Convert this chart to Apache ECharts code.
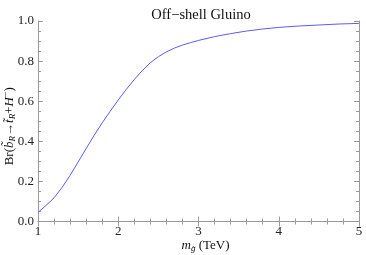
<!DOCTYPE html>
<html>
<head>
<meta charset="utf-8">
<script src="https://cdn.jsdelivr.net/npm/echarts@6/dist/echarts.min.js"></script>
<style>html,body{margin:0;padding:0;background:#fff}#c{width:366px;height:255px}</style>
</head>
<body>
<div id="c"></div>
<script>
var titleText = 'Off\u2212shell Gluino';
var massTeV = [1.0,1.1,1.2,1.3,1.4,1.5,1.6,1.7,1.8,1.9,2.0,2.1,2.2,2.3,2.4,2.5,2.6,2.7,2.8,2.9,3.0,3.2,3.4,3.6,3.8,4.0,4.25,4.5,4.75,5.0];
var branching = [0.045,0.080,0.118,0.170,0.230,0.297,0.364,0.430,0.492,0.550,0.606,0.659,0.708,0.753,0.792,0.822,0.846,0.865,0.880,0.892,0.903,0.922,0.937,0.950,0.960,0.968,0.975,0.980,0.985,0.988];
var xTicks = ['1','2','3','4','5'];
var yTicks = ['0.0','0.2','0.4','0.6','0.8','1.0'];

var F = '"Liberation Serif","DejaVu Serif",serif';
var frame = '#9a9a9a';
var data = massTeV.map(function(x,i){return [x, branching[i]];});

function axisCommon(show) {
  return {
    axisLine:{show:true, lineStyle:{color:frame, width:1}},
    axisTick:{show:true, inside:true, length:5, lineStyle:{color:frame}},
    minorTick:{show:true, length:3, lineStyle:{color:frame}},
    splitLine:{show:false},
    axisLabel:{show:show, color:'#222', fontFamily:F, fontSize:13, margin:4}
  };
}
var chart = echarts.init(document.getElementById('c'), null, {renderer:'canvas'});
var xb = axisCommon(true);
var xt = axisCommon(false);
var yl = axisCommon(true);
var yr = axisCommon(false);
xb.minorTick.splitNumber = 5; xt.minorTick.splitNumber = 5;
yl.minorTick.splitNumber = 4; yr.minorTick.splitNumber = 4;
xb.axisLabel.formatter = function(v){return xTicks[Math.round(v)-1];};
yl.axisLabel.formatter = function(v){return yTicks[Math.round(v*5)];};

chart.setOption({
  animation:false,
  title:{text:titleText, left:196, top:3, textAlign:'center',
    textStyle:{fontFamily:F, fontSize:14.5, fontWeight:'normal', color:'#111'}},
  grid:{left:38, right:7, top:21, bottom:33.5, containLabel:false, outerBoundsMode:'none'},
  xAxis:[
    Object.assign({type:'value', min:1, max:5, interval:1, position:'bottom',
      name:'{i|m}{s|g\u0303}{t| (TeV)}', nameLocation:'middle', nameGap:16, nameMoveOverlap:false,
      nameTextStyle:{fontFamily:F, fontSize:13, color:'#111', verticalAlign:'top', padding:[0,0,0,14],
        rich:{i:{fontFamily:F, fontSize:13, fontStyle:'italic', color:'#111'},
              t:{fontFamily:F, fontSize:13, color:'#111'},
              s:{fontFamily:F, fontSize:9, fontStyle:'italic', color:'#111', padding:[7,0,0,0]}}}
    }, xb),
    Object.assign({type:'value', min:1, max:5, interval:1, position:'top'}, xt)
  ],
  yAxis:[
    Object.assign({type:'value', min:0, max:1, interval:0.2, position:'left',
      name:'{t|Br(}{i|b\u0303}{s|R}{t|\u2192}{i|t\u0303}{s|R}{t|+}{i|H}{p|\u2212}{t|)}', nameLocation:'middle', nameGap:20, nameRotate:90, nameMoveOverlap:false,
      nameTextStyle:{fontFamily:F, fontSize:13, color:'#111', padding:[0,10,0,0],
        rich:{t:{fontFamily:F, fontSize:13, color:'#111'},
              i:{fontFamily:F, fontSize:13, fontStyle:'italic', color:'#111'},
              s:{fontFamily:F, fontSize:9, fontStyle:'italic', color:'#111', padding:[7,0,0,0]},
              p:{fontFamily:F, fontSize:10, color:'#111', padding:[0,0,7,0]}}}
    }, yl),
    Object.assign({type:'value', min:0, max:1, interval:0.2, position:'right'}, yr)
  ],
  series:[{type:'line', xAxisIndex:0, yAxisIndex:0, data:data, smooth:false, showSymbol:false,
    lineStyle:{color:'#5a5aff', width:1}}]
});
</script>
</body>
</html>
